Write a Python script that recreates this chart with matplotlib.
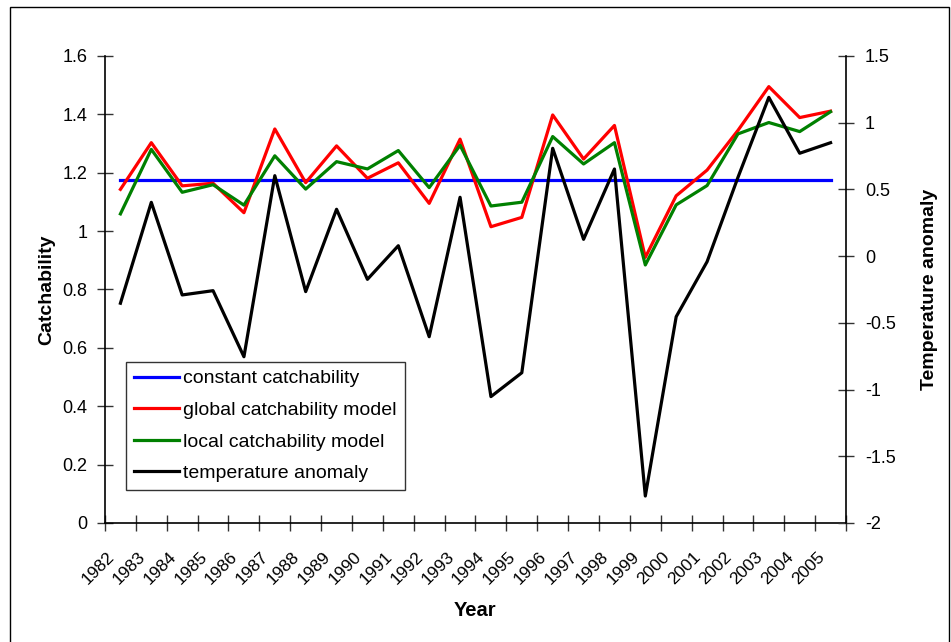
import numpy as np
import matplotlib
matplotlib.use('Agg')
import matplotlib.pyplot as plt
from matplotlib.patches import Rectangle

plt.rcParams['font.family'] = ['Liberation Sans', 'DejaVu Sans']

# data
years = list(range(1982, 2006))
constant = [1.175] * 24
global_model = [1.143, 1.303, 1.155, 1.164, 1.063, 1.350, 1.166, 1.292, 1.181, 1.234,
                1.095, 1.315, 1.015, 1.047, 1.398, 1.247, 1.362, 0.910, 1.121, 1.209,
                1.345, 1.495, 1.389, 1.411]
local_model = [1.059, 1.280, 1.133, 1.159, 1.089, 1.258, 1.144, 1.238, 1.213, 1.276,
               1.149, 1.294, 1.086, 1.099, 1.324, 1.230, 1.303, 0.884, 1.090, 1.156,
               1.333, 1.372, 1.341, 1.409]
temp_anomaly = [-0.353, 0.403, -0.291, -0.259, -0.754, 0.603, -0.266, 0.351, -0.174, 0.078,
                -0.604, 0.441, -1.053, -0.874, 0.808, 0.126, 0.653, -1.798, -0.454, -0.042,
                0.59, 1.19, 0.771, 0.85]

left_ticks = [0, 0.2, 0.4, 0.6, 0.8, 1, 1.2, 1.4, 1.6]
right_ticks = [-2, -1.5, -1, -0.5, 0, 0.5, 1, 1.5]

fig = plt.figure(figsize=(9.51, 6.42), dpi=100)
ax = fig.add_axes([0.1104, 0.1854, 0.7792, 0.7274])
ax2 = ax.twinx()

x = np.arange(len(years))
lw = 2.3
l1, = ax.plot(x, constant, color='#0000ff', lw=lw, label='constant catchability', zorder=3)
l2, = ax.plot(x, global_model, color='#ff0000', lw=lw, label='global catchability model', zorder=4)
l3, = ax.plot(x, local_model, color='#008000', lw=lw, label='local catchability model', zorder=5)
l4, = ax2.plot(x, temp_anomaly, color='black', lw=lw, label='temperature anomaly')

ax.set_xlim(-0.5, len(years) - 0.5)
ax.set_ylim(0, 1.6)
ax2.set_ylim(-2, 1.5)

ax.set_yticks(left_ticks)
ax.set_yticklabels([f'{v:g}' for v in left_ticks])
ax2.set_yticks(right_ticks)
ax2.set_yticklabels([f'{v:g}' for v in right_ticks])

# category ticks between years; rotated labels sit a little left of each year
ax.set_xticks(np.arange(len(years) + 1) - 0.5)
ax.set_xticklabels([])
ax.set_xticks(x - 0.45, minor=True)
ax.set_xticklabels([str(y) for y in years], minor=True, rotation=45,
                   ha='right', va='top', rotation_mode='anchor', fontsize=12.5)
ax.tick_params(axis='x', which='minor', length=0, pad=19)
ax.tick_params(axis='x', which='major', direction='inout', length=11, width=1, color='#333333')
ax.tick_params(axis='y', direction='inout', length=11, width=1, labelsize=13, pad=7, color='#333333')
ax2.tick_params(axis='y', direction='inout', length=11, width=1, labelsize=13, pad=8, color='#333333')

for a in (ax, ax2):
    a.spines['top'].set_visible(False)
    for s in a.spines.values():
        s.set_linewidth(1.2)
ax.spines['right'].set_visible(False)
ax2.spines['left'].set_visible(False)
ax2.spines['bottom'].set_visible(False)

ax.set_ylabel('Catchability', fontsize=14, fontweight='bold', labelpad=5)
ax2.set_ylabel('Temperature anomaly', fontsize=14, fontweight='bold', labelpad=18)
ax.set_xlabel('Year', fontsize=14.5, fontweight='bold', labelpad=10)

leg = ax2.legend(handles=[l1, l2, l3, l4], loc='upper left',
                 bbox_to_anchor=(126 / 951, 1 - 362 / 642), bbox_transform=fig.transFigure,
                 fontsize=14, frameon=True, fancybox=False, edgecolor='black',
                 handlelength=2.3, handletextpad=0.25, labelspacing=0.72,
                 borderpad=0.4, borderaxespad=0)
leg.get_frame().set_linewidth(1.0)

fig.patches.append(Rectangle((10 / 951, -0.01), 939 / 951, 1.01 - 7 / 642, transform=fig.transFigure,
                             fill=False, edgecolor='black', lw=1))

fig.savefig('out.png', dpi=100)
